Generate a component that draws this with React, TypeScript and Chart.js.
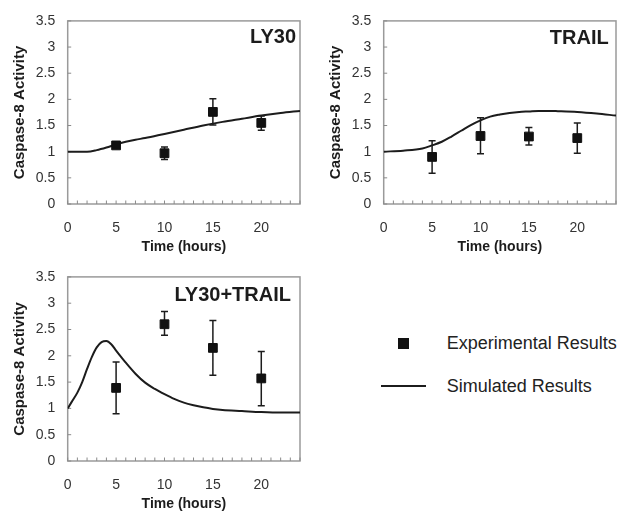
import React, { useEffect, useRef } from "react";
import { Chart, registerables } from "chart.js";

Chart.register(...registerables);

// ---- Data ----
const EXP_TIME = [5, 10, 15, 20];

const LY30_MEAN = [1.12, 0.97, 1.76, 1.55];
const LY30_LOW = [1.08, 0.85, 1.51, 1.41];
const LY30_HIGH = [1.16, 1.09, 2.01, 1.68];

const TRAIL_MEAN = [0.9, 1.3, 1.29, 1.26];
const TRAIL_LOW = [0.59, 0.96, 1.13, 0.97];
const TRAIL_HIGH = [1.21, 1.65, 1.46, 1.55];

const COMBO_MEAN = [1.39, 2.6, 2.15, 1.57];
const COMBO_LOW = [0.9, 2.39, 1.63, 1.05];
const COMBO_HIGH = [1.88, 2.84, 2.67, 2.08];

const LY30_SIM_T = [0, 1, 2, 3, 4, 5, 6, 7, 8, 10, 12, 14, 16, 18, 20, 22, 24];
const LY30_SIM_Y = [1.0, 1.0, 1.0, 1.03, 1.08, 1.14, 1.19, 1.23, 1.26, 1.34, 1.42, 1.5, 1.57, 1.63, 1.69, 1.74, 1.78];

const TRAIL_SIM_T = [0, 2, 4, 5, 6, 7, 8, 9, 10, 11, 12, 13, 14, 15, 16, 17, 18, 20, 22, 24];
const TRAIL_SIM_Y = [1.0, 1.02, 1.06, 1.12, 1.19, 1.29, 1.4, 1.51, 1.6, 1.67, 1.71, 1.74, 1.76, 1.77, 1.78, 1.78, 1.775, 1.76, 1.73, 1.69];

const COMBO_SIM_T = [0, 0.5, 1, 1.5, 2, 2.5, 3, 3.5, 4, 4.5, 5, 6, 7, 8, 9, 10, 11, 12, 13, 14, 15, 16, 18, 20, 22, 24];
const COMBO_SIM_Y = [1.0, 1.15, 1.3, 1.5, 1.75, 1.98, 2.16, 2.26, 2.28, 2.22, 2.1, 1.87, 1.66, 1.49, 1.37, 1.27, 1.18, 1.11, 1.06, 1.02, 0.99, 0.97, 0.95, 0.93, 0.92, 0.92];

const X_LABELS = [0, 5, 10, 15, 20];
const PANEL_TITLES = ["LY30", "TRAIL", "LY30+TRAIL"];
const LEGEND_LABELS = ["Experimental Results", "Simulated Results"];
const Y_TITLE = "Caspase-8 Activity";
const X_TITLE = "Time (hours)";

const FONT = "'Liberation Sans', Arial, sans-serif";
const INK = "#1c1c1c";

const decorPlugin = {
  id: "decor",
  beforeDatasetsDraw(chart: any, _args: any, opts: any) {
    const { ctx, chartArea } = chart;
    const xs = chart.scales.x;
    const ys = chart.scales.y;
    ctx.save();
    // box
    ctx.strokeStyle = "#9a9a9a";
    ctx.lineWidth = 1.5;
    ctx.strokeRect(chartArea.left, chartArea.top, chartArea.right - chartArea.left, chartArea.bottom - chartArea.top);
    // inward ticks
    ctx.lineWidth = 1;
    ctx.strokeStyle = "#8a8a8a";
    ctx.beginPath();
    for (const t of xs.ticks) {
      const px = xs.getPixelForValue(t.value);
      ctx.moveTo(px, chartArea.bottom);
      ctx.lineTo(px, chartArea.bottom - 3.5);
    }
    for (const t of ys.ticks) {
      const py = ys.getPixelForValue(t.value);
      ctx.moveTo(chartArea.left, py);
      ctx.lineTo(chartArea.left + 3.5, py);
    }
    ctx.stroke();
    // error bars
    ctx.strokeStyle = INK;
    ctx.lineWidth = 1.5;
    ctx.beginPath();
    opts.x.forEach((xv: number, i: number) => {
      const px = xs.getPixelForValue(xv);
      const pl = ys.getPixelForValue(opts.low[i]);
      const ph = ys.getPixelForValue(opts.high[i]);
      ctx.moveTo(px, pl);
      ctx.lineTo(px, ph);
      ctx.moveTo(px - 3.5, pl);
      ctx.lineTo(px + 3.5, pl);
      ctx.moveTo(px - 3.5, ph);
      ctx.lineTo(px + 3.5, ph);
    });
    ctx.stroke();
    ctx.restore();
  },
  afterDraw(chart: any, _args: any, opts: any) {
    const { ctx, chartArea } = chart;
    ctx.save();
    ctx.font = `bold 20px ${FONT}`;
    ctx.fillStyle = INK;
    ctx.textAlign = "right";
    ctx.textBaseline = "middle";
    ctx.fillText(opts.title, chartArea.right - opts.titleRight, chartArea.top + opts.titleY);
    ctx.restore();
  },
};

type PanelProps = {
  left: number;
  top: number;
  width: number;
  height: number;
  padTop: number;
  title: string;
  titleRight: number;
  titleY: number;
  mean: number[];
  low: number[];
  high: number[];
  simT: number[];
  simY: number[];
};

function Panel(p: PanelProps) {
  const ref = useRef<HTMLCanvasElement | null>(null);
  useEffect(() => {
    if (!ref.current) return;
    const chart = new Chart(ref.current, {
      type: "scatter",
      data: {
        datasets: [
          {
            label: "Simulated",
            data: p.simT.map((t, i) => ({ x: t, y: p.simY[i] })),
            showLine: true,
            borderColor: INK,
            borderWidth: 2,
            pointRadius: 0,
            cubicInterpolationMode: "monotone",
            order: 2,
          } as any,
          {
            label: "Experimental",
            data: EXP_TIME.map((t, i) => ({ x: t, y: p.mean[i] })),
            showLine: false,
            pointStyle: "rect",
            pointRadius: 6.2,
            backgroundColor: "#111",
            borderColor: "#111",
            borderWidth: 1,
            order: 1,
          } as any,
        ],
      },
      plugins: [decorPlugin],
      options: {
        animation: false,
        responsive: false,
        devicePixelRatio: 1,
        layout: { padding: { top: p.padTop, right: 2, left: 0, bottom: 0 } },
        plugins: {
          legend: { display: false },
          tooltip: { enabled: false },
          decor: {
            title: p.title,
            titleRight: p.titleRight,
            titleY: p.titleY,
            x: EXP_TIME,
            low: p.low,
            high: p.high,
          },
        } as any,
        scales: {
          x: {
            type: "linear",
            min: 0,
            max: 24,
            afterFit: (s: any) => {
              s.height = 52;
            },
            grid: { display: false, drawTicks: false },
            border: { display: false },
            ticks: {
              stepSize: 1,
              autoSkip: false,
              maxRotation: 0,
              padding: 16,
              color: "#333",
              font: { family: FONT, size: 14 },
              callback: (v: any) => (X_LABELS.includes(Number(v)) ? String(v) : ""),
            },
            title: {
              display: true,
              text: X_TITLE,
              color: INK,
              font: { family: FONT, size: 14, weight: "bold" },
              padding: { top: 0, bottom: 0 },
            },
          },
          y: {
            type: "linear",
            min: 0,
            max: 3.5,
            afterFit: (s: any) => {
              s.width = 67.7;
            },
            grid: { display: false, drawTicks: false },
            border: { display: false },
            ticks: {
              stepSize: 0.5,
              padding: 12.5,
              color: "#333",
              font: { family: FONT, size: 14 },
              callback: (v: any) => String(Math.round(Number(v) * 10) / 10),
            },
            title: {
              display: true,
              text: Y_TITLE,
              color: INK,
              font: { family: FONT, size: 15, weight: "bold" },
              padding: { top: 11, bottom: 0 },
            },
          },
        },
      } as any,
    });
    return () => chart.destroy();
  }, []);
  return (
    <canvas
      ref={ref}
      width={p.width}
      height={p.height}
      style={{ position: "absolute", left: p.left, top: p.top, width: p.width, height: p.height }}
    />
  );
}

export default function App() {
  return (
    <div style={{ position: "absolute", left: 0, top: 0, width: 632, height: 513, background: "#fff", overflow: "hidden" }}>
      <Panel left={0} top={0} width={316} height={256} padTop={14} title={PANEL_TITLES[0]} titleRight={4} titleY={17}
        mean={LY30_MEAN} low={LY30_LOW} high={LY30_HIGH} simT={LY30_SIM_T} simY={LY30_SIM_Y} />
      <Panel left={316} top={0} width={316} height={256} padTop={14} title={PANEL_TITLES[1]} titleRight={7.3} titleY={17.5}
        mean={TRAIL_MEAN} low={TRAIL_LOW} high={TRAIL_HIGH} simT={TRAIL_SIM_T} simY={TRAIL_SIM_Y} />
      <Panel left={0} top={256} width={316} height={257} padTop={14} title={PANEL_TITLES[2]} titleRight={9} titleY={19}
        mean={COMBO_MEAN} low={COMBO_LOW} high={COMBO_HIGH} simT={COMBO_SIM_T} simY={COMBO_SIM_Y} />
      {/* legend */}
      <div style={{ position: "absolute", left: 398.3, top: 337.8, width: 11, height: 11, background: "#111" }} />
      <div style={{ position: "absolute", left: 381, top: 385, width: 45, height: 2, background: INK }} />
      <div style={{ position: "absolute", left: 446.7, top: 331.7, lineHeight: "22px", fontFamily: FONT, fontSize: 18, color: "#222", whiteSpace: "nowrap" }}>
        {LEGEND_LABELS[0]}
      </div>
      <div style={{ position: "absolute", left: 446.7, top: 374.7, lineHeight: "22px", fontFamily: FONT, fontSize: 18, color: "#222", whiteSpace: "nowrap" }}>
        {LEGEND_LABELS[1]}
      </div>
    </div>
  );
}
